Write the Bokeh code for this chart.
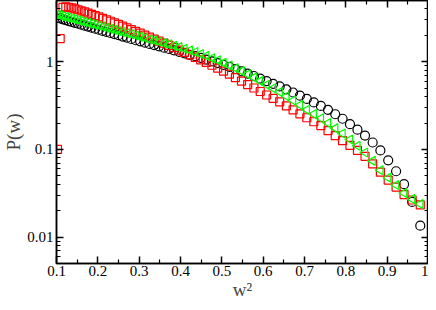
import math
from bokeh.plotting import figure
from bokeh.models import Range1d, FixedTicker, LogAxis, LinearAxis
from bokeh.embed import file_html
from bokeh.resources import INLINE

# x = w^2 grid (shared by all series)
w2 = [0.1024, 0.1089, 0.1156, 0.1225, 0.1296, 0.1369, 0.1444, 0.1521, 0.1600, 0.1681,
      0.1764, 0.1849, 0.1936, 0.2025, 0.2116, 0.2209, 0.2304, 0.2401, 0.2500, 0.2601,
      0.2704, 0.2809, 0.2916, 0.3025, 0.3136, 0.3249, 0.3364, 0.3481, 0.3600, 0.3721,
      0.3844, 0.3969, 0.4096, 0.4225, 0.4356, 0.4489, 0.4624, 0.4761, 0.4900, 0.5041,
      0.5184, 0.5329, 0.5476, 0.5625, 0.5776, 0.5929, 0.6084, 0.6241, 0.6400, 0.6561,
      0.6724, 0.6889, 0.7056, 0.7225, 0.7396, 0.7569, 0.7744, 0.7921, 0.8100, 0.8281,
      0.8464, 0.8649, 0.8836, 0.9025, 0.9216, 0.9409, 0.9604, 0.9801]

p_black = [3.18, 3.12, 3.05, 2.98, 2.91, 2.85, 2.78, 2.72, 2.65, 2.58,
           2.52, 2.45, 2.38, 2.32, 2.25, 2.19, 2.13, 2.07, 2.01, 1.94,
           1.88, 1.82, 1.76, 1.71, 1.65, 1.60, 1.55, 1.50, 1.45, 1.40,
           1.35, 1.30, 1.25, 1.20, 1.16, 1.11, 1.06, 1.01, 0.967, 0.920,
           0.874, 0.827, 0.779, 0.734, 0.688, 0.644, 0.602, 0.561, 0.523, 0.484,
           0.446, 0.411, 0.377, 0.344, 0.314, 0.283, 0.252, 0.224, 0.194, 0.168,
           0.144, 0.120, 0.0975, 0.0751, 0.0564, 0.0402, 0.0252, 0.0135]

p_red = [0.100, 1.84, 4.18, 4.24, 4.19, 4.12, 4.02, 3.92, 3.81, 3.70,
         3.59, 3.48, 3.36, 3.25, 3.13, 3.01, 2.90, 2.78, 2.67, 2.55,
         2.44, 2.33, 2.22, 2.12, 2.01, 1.91, 1.81, 1.72, 1.63, 1.54,
         1.45, 1.36, 1.28, 1.20, 1.12, 1.05, 0.982, 0.913, 0.845, 0.782,
         0.722, 0.660, 0.602, 0.550, 0.502, 0.458, 0.418, 0.382, 0.349, 0.314,
         0.283, 0.255, 0.230, 0.207, 0.187, 0.164, 0.144, 0.126, 0.111, 0.0975,
         0.0834, 0.0686, 0.0550, 0.0447, 0.0372, 0.0306, 0.0265, 0.0233]

p_green = [3.44, 3.38, 3.31, 3.25, 3.18, 3.12, 3.05, 2.98, 2.92, 2.85,
           2.79, 2.72, 2.65, 2.58, 2.52, 2.45, 2.38, 2.32, 2.25, 2.19,
           2.12, 2.06, 1.99, 1.93, 1.87, 1.80, 1.75, 1.69, 1.63, 1.58,
           1.52, 1.47, 1.41, 1.35, 1.29, 1.23, 1.17, 1.10, 1.04, 0.972,
           0.906, 0.845, 0.782, 0.721, 0.660, 0.602, 0.548, 0.498, 0.452, 0.405,
           0.362, 0.321, 0.283, 0.254, 0.227, 0.200, 0.175, 0.152, 0.130, 0.110,
           0.0925, 0.0741, 0.0579, 0.0476, 0.0392, 0.0318, 0.0272, 0.0239]

x_ticks = [0.1, 0.2, 0.3, 0.4, 0.5, 0.6, 0.7, 0.8, 0.9, 1.0]
x_tick_labels = ["0.1", "0.2", "0.3", "0.4", "0.5", "0.6", "0.7", "0.8", "0.9", "1"]
x_minor = [0.15, 0.25, 0.35, 0.45, 0.55, 0.65, 0.75, 0.85, 0.95]
y_ticks = [0.01, 0.1, 1]
y_tick_labels = ["0.01", "0.1", "1"]
y_minor = [0.006, 0.007, 0.008, 0.009,
           0.02, 0.03, 0.04, 0.05, 0.06, 0.07, 0.08, 0.09,
           0.2, 0.3, 0.4, 0.5, 0.6, 0.7, 0.8, 0.9,
           2, 3, 4, 5]

FONT = "Liberation Serif"

p = figure(width=428, height=302, y_axis_type="log",
           x_range=Range1d(0.1, 1.0), y_range=Range1d(0.005, 5),
           output_backend="svg", toolbar_location=None,
           min_border_top=0, min_border_right=0, min_border_left=0, min_border_bottom=0)
p.grid.visible = False
p.outline_line_color = "black"
p.outline_line_width = 1.5
p.background_fill_color = "white"
p.border_fill_color = "white"

xt = FixedTicker(ticks=x_ticks, minor_ticks=x_minor)
yt = FixedTicker(ticks=y_ticks, minor_ticks=y_minor)


def style(ax):
    ax.major_tick_in = 7
    ax.major_tick_out = 0
    ax.minor_tick_in = 4
    ax.minor_tick_out = 0
    ax.axis_line_width = 1.5
    ax.major_tick_line_width = 1.5
    ax.minor_tick_line_width = 1.2
    ax.axis_line_color = "black"
    ax.major_tick_line_color = "black"
    ax.minor_tick_line_color = "black"
    ax.major_label_text_font = FONT
    ax.axis_label_text_font = FONT
    ax.axis_label_text_font_style = "normal"
    ax.major_label_text_color = "black"
    ax.major_label_text_font_size = "15px"
    ax.axis_label_text_font_size = "19px"
    ax.major_label_standoff = 3


xa = p.xaxis[0]
xa.ticker = xt
xa.major_label_overrides = {t: l for t, l in zip(x_ticks, x_tick_labels)}
xa.axis_label = "w²"
style(xa)
xa.major_label_standoff = 2
xa.axis_label_standoff = 0

ya = p.yaxis[0]
ya.ticker = yt
ya.major_label_overrides = {t: l for t, l in zip(y_ticks, y_tick_labels)}
ya.axis_label = "P(w)"
style(ya)
ya.axis_label_standoff = 0

# mirrored inward ticks on top and right, without labels
top = LinearAxis(ticker=xt, major_label_overrides={t: "" for t in x_ticks})
style(top)
top.major_label_standoff = 0
p.add_layout(top, "above")
right = LogAxis(ticker=yt, major_label_overrides={t: "" for t in y_ticks})
style(right)
right.major_label_standoff = 0
p.add_layout(right, "right")

p.scatter(w2, p_black, marker="circle", size=9, fill_color=None,
          line_color="black", line_width=1.2)
p.scatter(w2, p_red, marker="square", size=8, fill_color=None,
          line_color="#ff0000", line_width=1.2)
p.scatter(w2, p_green, marker="triangle", size=9, angle=math.pi / 2, fill_color=None,
          line_color="#00ff00", line_width=1.2)

open("out.html", "w").write(file_html(p, INLINE))
